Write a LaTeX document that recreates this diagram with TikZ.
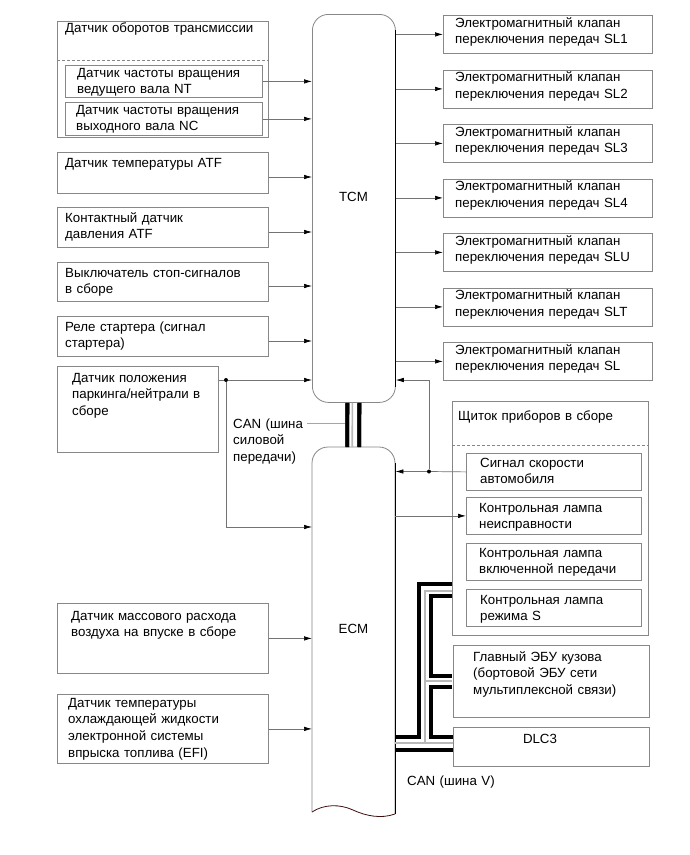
\documentclass[tikz,border=0pt]{standalone}
\usepackage{fontspec}
\setmainfont{Liberation Sans}
\usetikzlibrary{arrows.meta}
\definecolor{boxgray}{RGB}{135,135,135}
\definecolor{linegray}{RGB}{115,115,115}
\definecolor{busred}{RGB}{105,25,25}
\newcommand{\dfont}{\fontsize{13.3}{16.9}\selectfont}
\begin{document}
\begin{tikzpicture}[x=1pt,y=-1pt,
  box/.style={draw=boxgray, line width=0.8pt, inner sep=0pt, anchor=north west},
  txt/.style={anchor=base west, inner sep=0pt, align=left, text width=230pt, font=\dfont},
  ctxt/.style={anchor=base, inner sep=0pt, font=\dfont},
  arr/.style={draw=linegray, line width=0.7pt, -{Latex[length=8pt,width=4.5pt,color=black]}},
  ln/.style={draw=linegray, line width=0.7pt},
  sepline/.style={draw=boxgray, line width=0.6pt, dash pattern=on 3pt off 2pt},
  jdot/.style={circle, fill=black, inner sep=0pt, minimum size=4pt},
  blk/.style={line width=3.3pt, black, line join=miter},
  blkedge/.style={line width=4.3pt, busred, line join=miter},
  gry/.style={line width=1.6pt, gray!55},
]
\useasboundingbox (0,0) rectangle (690,855);
\fill[white] (0,0) rectangle (690,855);

% ---------- TCM ----------
\node[draw=boxgray, line width=0.8pt, rounded corners=16pt, minimum width=83pt, minimum height=388pt, inner sep=0pt, anchor=north west] (tcm) at (312,14) {};
\draw[black, line width=0.8pt] ([yshift=-16pt]tcm.north east) -- ([yshift=16pt]tcm.south east);
\node[ctxt] (tcmlbl) at (353.5,201) {TCM};

% ---------- ECM ----------
\node[inner sep=0pt, minimum width=83pt, minimum height=365pt, anchor=north west] (ecm) at (312,447) {};
\draw[boxgray, line width=0.8pt] (312,812) [rounded corners=16pt] -- (312,447) -- (395,447) [sharp corners] -- (395,814);
\draw[black, line width=0.8pt] (395,463) -- (395,814);
\draw[busred!60!black, line width=0.8pt] (312,812) .. controls (324,804) and (340,804) .. (353,810) .. controls (366,816) and (381,819) .. (395,814);
\node[ctxt] (ecmlbl) at (353.5,633) {ECM};

% ---------- TCM - ECM CAN bus ----------
\draw[blkedge] ([xshift=-6.5pt]tcm.south) -- ([xshift=-6.5pt]ecm.north);
\draw[blk] ([xshift=-6.5pt]tcm.south) -- ([xshift=-6.5pt]ecm.north);
\draw[gry] ([xshift=-1.5pt]tcm.south) -- ([xshift=-1.5pt]ecm.north);
\draw[blkedge] ([xshift=5.5pt]tcm.south) -- ([xshift=5.5pt]ecm.north);
\draw[blk] ([xshift=5.5pt]tcm.south) -- ([xshift=5.5pt]ecm.north);
\node[txt] (canpt) at (233,428) {CAN (шина\\силовой\\передачи)};
\coordinate (canlead) at (307,423);
\coordinate (canbus) at (345,423);
\draw[ln, draw=gray!70] (canlead) -- (canbus);

% ---------- left column, TCM inputs ----------
\node[box, minimum width=211pt, minimum height=116pt] (grp1) at (57,21) {};
\draw[sepline] (grp1.west |- 0,60) -- (grp1.east |- 0,60);
\node[txt] (grp1t) at (65,32) {Датчик оборотов трансмиссии};
\node[box, minimum width=197pt, minimum height=32pt] (nt) at (65,65) {};
\node[txt] (ntt) at (77,77) {Датчик частоты вращения\\ведущего вала NT};
\node[box, minimum width=197pt, minimum height=33pt] (nc) at (65,102) {};
\node[txt] (nct) at (76,114) {Датчик частоты вращения\\выходного вала NC};
\draw[arr] (nt.east) -- (nt.east -| tcm.west);
\draw[arr] (nc.east) -- (nc.east -| tcm.west);

\node[box, minimum width=211pt, minimum height=41pt] (atf) at (57,152) {};
\node[txt] (atft) at (65,167) {Датчик температуры ATF};
\draw[arr] (atf.east |- 0,177) -- (tcm.west |- 0,177);

\node[box, minimum width=211pt, minimum height=40pt] (press) at (57,207) {};
\node[txt] (presst) at (65,222) {Контактный датчик\\давления ATF};
\draw[arr] (press.east |- 0,232) -- (tcm.west |- 0,232);

\node[box, minimum width=211pt, minimum height=39pt] (stop) at (57,262) {};
\node[txt] (stopt) at (65,277) {Выключатель стоп-сигналов\\в сборе};
\draw[arr] (stop.east |- 0,286) -- (tcm.west |- 0,286);

\node[box, minimum width=211pt, minimum height=40pt] (start) at (57,316) {};
\node[txt] (startt) at (65,331) {Реле стартера (сигнал\\стартера)};
\draw[arr] (start.east |- 0,341) -- (tcm.west |- 0,341);

\node[box, minimum width=161pt, minimum height=86pt] (pn) at (57,366) {};
\node[txt] (pnt) at (72,382) {Датчик положения\\паркинга/нейтрали в\\сборе};
\node[jdot] (pndot) at (226,380) {};
\draw[ln] (pn.east |- pndot) -- (pndot);
\draw[arr] (pndot) -- (pndot -| tcm.west);
\coordinate (pncorner) at (226,527);
\draw[arr] (pndot) -- (pncorner) -- (pncorner -| ecm.west);

% ---------- ECM inputs ----------
\node[box, minimum width=211pt, minimum height=70pt] (maf) at (57,603) {};
\node[txt] (maft) at (71,620) {Датчик массового расхода\\воздуха на впуске в сборе};
\draw[arr] (maf.east) -- (maf.east -| ecm.west);

\node[box, minimum width=211pt, minimum height=69pt] (efi) at (57,694) {};
\node[txt] (efit) at (68,707) {Датчик температуры\\охлаждающей жидкости\\электронной системы\\впрыска топлива (EFI)};
\draw[arr] (efi.east) -- (efi.east -| ecm.west);

% ---------- solenoid valves ----------
\foreach \nm/\top/\lab in {sla/15/SL1, slb/69.5/SL2, slc/124/SL3, sld/178.5/SL4, sle/233/SLU, slf/287.5/SLT, slg/342/SL}{
  \node[box, minimum width=209pt, minimum height=38pt] (\nm) at (443,\top) {};
  \node[txt] (\nm t) at (455,\top+12) {Электромагнитный клапан\\переключения передач \lab};
  \draw[arr] (\nm.west -| tcm.east) -- (\nm.west);
}

% ---------- instrument panel ----------
\node[box, minimum width=196pt, minimum height=234pt] (panel) at (452,401) {};
\draw[sepline] (panel.west |- 0,445) -- (panel.east |- 0,445);
\node[txt] (panelt) at (458,420) {Щиток приборов в сборе};
\node[box, minimum width=175pt, minimum height=37pt] (spd) at (466,453) {};
\node[txt] (spdt) at (480,467) {Сигнал скорости\\автомобиля};
\node[box, minimum width=175pt, minimum height=37pt] (mil) at (466,497) {};
\node[txt] (milt) at (479,512) {Контрольная лампа\\неисправности};
\node[box, minimum width=175pt, minimum height=37pt] (gear) at (466,543) {};
\node[txt] (geart) at (479,557) {Контрольная лампа\\включенной передачи};
\node[box, minimum width=175pt, minimum height=37pt] (smode) at (466,589) {};
\node[txt] (smodet) at (480,604) {Контрольная лампа\\режима S};

\node[jdot] (spddot) at (429,471.5) {};
\draw[ln] (spd.west) -- (spddot);
\draw[arr] (spddot) -- (spddot -| ecm.east);
\draw[arr] (spddot) -- (spddot |- pndot) -- (pndot -| tcm.east);
\draw[arr] (mil.west -| ecm.east) -- (mil.west);

% ---------- body ECU, DLC3 ----------
\node[box, minimum width=196pt, minimum height=72pt] (body) at (453,645) {};
\node[txt] (bodyt) at (473,661) {Главный ЭБУ кузова\\(бортовой ЭБУ сети\\мультиплексной связи)};
\node[box, minimum width=196pt, minimum height=39pt] (dlc) at (453,727) {};
\node[ctxt] (dlct) at (540,743) {DLC3};
\node[txt] (canvt) at (407,785) {CAN (шина V)};

% ---------- CAN V bus ----------
\coordinate (a1) at (395,737); \coordinate (a2) at (419,737);
\coordinate (a3) at (419,584); \coordinate (a4) at (452,584);
\coordinate (c1) at (452,596); \coordinate (c2) at (431,596);
\coordinate (c3) at (431,676); \coordinate (c4) at (452,676);
\coordinate (c5) at (452,687); \coordinate (c6) at (431,687);
\coordinate (c7) at (431,737); \coordinate (c8) at (453,737);
\coordinate (d1) at (395,750); \coordinate (d2) at (453,750);
\coordinate (b1) at (452,591); \coordinate (b2) at (425,591);
\coordinate (b3) at (425,743); \coordinate (b4) at (395,743);
\coordinate (b5) at (453,743); \coordinate (b6) at (425,681);
\coordinate (b7) at (452,681);
\foreach \s in {blkedge, blk}{
  \draw[\s] (a1) -- (a2) -- (a3) -- (a4);
  \draw[\s] (c1) -- (c2) -- (c3) -- (c4);
  \draw[\s] (c5) -- (c6) -- (c7) -- (c8);
  \draw[\s] (d1) -- (d2);
}
\draw[gry, line join=miter] (b1) -- (b2) -- (b3);
\draw[gry] (b4) -- (b5);
\draw[gry] (b6) -- (b7);
\end{tikzpicture}
\end{document}
